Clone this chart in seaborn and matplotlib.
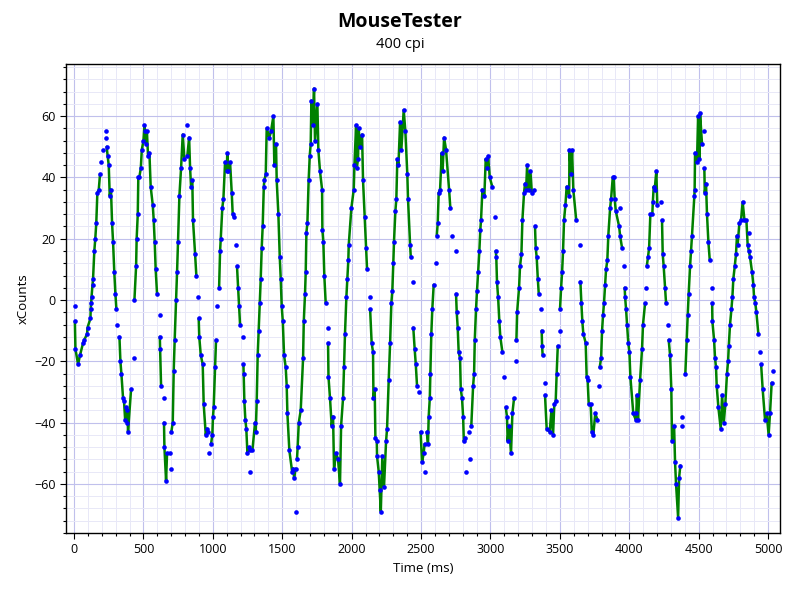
import numpy as np
import pandas as pd
import seaborn as sns
import matplotlib.pyplot as plt
from matplotlib.ticker import MultipleLocator

# time (ms), xCounts, flag: 1 = on green line, 0 = dot only (line breaks), 2 = dot only (line goes on)
time_ms = [
    4, 6, 10, 29, 43, 65, 74, 94, 97, 118, 120, 123, 126, 133, 137, 146, 153, 160, 168, 178,
    187, 197, 207, 230, 233, 235, 242, 250, 257, 266, 274, 281, 290, 298, 305, 310, 327, 334, 341, 353,
    360, 368, 375, 380, 384, 389, 411, 434, 435, 447, 451, 459, 463, 470, 481, 488, 500, 507, 512, 519,
    525, 533, 543, 552, 567, 574, 581, 588, 598, 617, 618, 620, 627, 646, 648, 651, 663, 670, 690, 697,
    701, 711, 718, 725, 735, 742, 749, 759, 771, 783, 795, 812, 816, 829, 836, 843, 852, 857, 872, 881,
    895, 898, 902, 913, 927, 934, 949, 958, 965, 975, 987, 996, 1001, 1006, 1016, 1023, 1030, 1045, 1052, 1057,
    1068, 1076, 1088, 1100, 1104, 1110, 1124, 1136, 1143, 1153, 1167, 1174, 1182, 1189, 1196, 1218, 1220, 1222, 1227, 1234,
    1241, 1249, 1262, 1268, 1270, 1285, 1304, 1309, 1316, 1323, 1330, 1338, 1345, 1352, 1359, 1367, 1371, 1381, 1388, 1407,
    1419, 1436, 1443, 1455, 1460, 1472, 1482, 1489, 1496, 1504, 1513, 1525, 1532, 1537, 1551, 1571, 1580, 1585, 1597, 1602,
    1606, 1611, 1619, 1633, 1650, 1655, 1664, 1669, 1674, 1681, 1690, 1698, 1705, 1710, 1718, 1729, 1736, 1753, 1760, 1772,
    1787, 1789, 1796, 1803, 1813, 1828, 1830, 1833, 1844, 1856, 1866, 1873, 1888, 1902, 1916, 1924, 1938, 1945, 1952, 1962,
    1969, 1976, 1979, 1998, 2015, 2020, 2032, 2037, 2046, 2050, 2062, 2075, 2082, 2094, 2104, 2111, 2130, 2133, 2144, 2154,
    2157, 2166, 2171, 2181, 2183, 2195, 2202, 2210, 2221, 2233, 2248, 2255, 2267, 2277, 2286, 2293, 2300, 2305, 2315, 2322,
    2329, 2337, 2349, 2358, 2375, 2387, 2401, 2406, 2421, 2426, 2440, 2444, 2454, 2462, 2471, 2486, 2497, 2507, 2519, 2525,
    2531, 2541, 2550, 2555, 2563, 2567, 2574, 2581, 2591, 2608, 2613, 2620, 2627, 2637, 2649, 2655, 2666, 2680, 2702, 2711,
    2725, 2750, 2752, 2757, 2764, 2771, 2781, 2786, 2795, 2803, 2808, 2817, 2824, 2844, 2853, 2862, 2875, 2882, 2887, 2896,
    2903, 2911, 2920, 2927, 2932, 2942, 2956, 2966, 2978, 2983, 2995, 3013, 3035, 3038, 3042, 3047, 3055, 3064, 3071, 3086,
    3095, 3110, 3119, 3124, 3134, 3148, 3158, 3170, 3184, 3187, 3192, 3206, 3213, 3223, 3230, 3242, 3249, 3257, 3264, 3276,
    3288, 3298, 3316, 3321, 3326, 3333, 3341, 3348, 3366, 3369, 3372, 3376, 3390, 3393, 3405, 3427, 3439, 3451, 3460, 3470,
    3477, 3485, 3499, 3501, 3509, 3516, 3523, 3530, 3540, 3549, 3567, 3569, 3581, 3588, 3597, 3618, 3646, 3648, 3655, 3662,
    3669, 3686, 3693, 3700, 3708, 3722, 3730, 3741, 3755, 3770, 3783, 3787, 3797, 3804, 3811, 3818, 3826, 3833, 3842, 3849,
    3862, 3869, 3881, 3888, 3895, 3903, 3927, 3934, 3936, 3948, 3965, 3967, 3970, 3977, 3984, 3993, 4001, 4008, 4029, 4046,
    4051, 4055, 4063, 4078, 4092, 4099, 4114, 4124, 4126, 4135, 4143, 4152, 4166, 4170, 4176, 4183, 4195, 4202, 4230, 4236,
    4241, 4248, 4258, 4265, 4280, 4284, 4294, 4303, 4308, 4323, 4330, 4337, 4352, 4359, 4368, 4378, 4380, 4404, 4414, 4421,
    4428, 4438, 4445, 4452, 4469, 4471, 4474, 4488, 4496, 4505, 4510, 4524, 4538, 4541, 4544, 4553, 4560, 4570, 4580, 4594,
    4597, 4599, 4611, 4618, 4625, 4630, 4642, 4659, 4669, 4681, 4692, 4704, 4712, 4717, 4726, 4736, 4743, 4750, 4760, 4769,
    4776, 4781, 4793, 4805, 4817, 4830, 4844, 4853, 4862, 4866, 4870, 4885, 4894, 4899, 4908, 4916, 4930, 4945, 4950, 4961,
    4978, 4990, 5004, 5014, 5026, 5036,
]
x_counts = [
    -2, -7, -16, -21, -18, -14, -13, -11, -9, -6, -3, -1, 1, 5, 7, 16, 20, 25, 35, 36,
    41, 45, 49, 55, 53, 50, 47, 44, 34, 36, 25, 19, 9, 2, -3, -8, -12, -20, -24, -32,
    -33, -39, -35, -40, -36, -43, -29, -19, 0, 11, 20, 28, 40, 40, 43, 49, 52, 57, 55, 51,
    55, 47, 48, 37, 31, 26, 19, 10, 2, -5, -12, -16, -28, -32, -40, -48, -59, -50, -50, -55,
    -43, -40, -23, -13, 0, 9, 19, 34, 43, 54, 46, 57, 47, 53, 43, 37, 39, 26, 15, 8,
    1, -6, -12, -18, -21, -34, -44, -42, -43, -50, -47, -44, -38, -35, -22, -13, -2, 4, 16, 20,
    30, 33, 45, 42, 48, 42, 45, 35, 28, 27, 18, 11, 4, -2, -8, -12, -21, -24, -33, -39,
    -42, -50, -48, -49, -56, -49, -40, -43, -33, -18, -10, -1, 7, 17, 24, 37, 39, 41, 56, 53,
    55, 60, 44, 51, 39, 28, 14, 7, -2, -7, -18, -22, -28, -37, -49, -56, -55, -58, -55, -69,
    -52, -48, -40, -36, -19, -7, 2, 9, 22, 25, 39, 47, 51, 65, 57, 69, 52, 64, 49, 42,
    36, 23, 19, 8, -1, -9, -14, -25, -32, -41, -38, -55, -50, -52, -60, -41, -32, -22, -11, 1,
    7, 13, 18, 30, 36, 44, 57, 43, 46, 56, 50, 54, 39, 27, 17, 10, 1, -3, -14, -17,
    -32, -29, -45, -46, -51, -56, -62, -69, -51, -61, -46, -42, -26, -14, -1, 3, 12, 19, 29, 33,
    46, 44, 58, 49, 62, 55, 41, 33, 18, 14, 6, -9, -16, -21, -28, -30, -43, -53, -50, -47,
    -56, -43, -47, -38, -32, -24, -11, -3, 5, 12, 21, 25, 35, 36, 48, 42, 53, 49, 36, 30,
    21, 16, 2, -4, -9, -17, -19, -29, -32, -38, -46, -45, -56, -43, -52, -41, -28, -24, -13, -3,
    3, 9, 16, 23, 26, 36, 34, 46, 43, 47, 40, 37, 27, 16, 14, 6, 1, -7, -12, -17,
    -25, -35, -38, -46, -41, -50, -37, -32, -20, -13, -4, 4, 11, 15, 26, 35, 38, 36, 44, 36,
    42, 35, 36, 24, 17, 14, 7, 2, -3, -10, -15, -18, -27, -31, -42, -43, -36, -44, -34, -33,
    -24, -15, -10, -3, 4, 9, 16, 26, 31, 37, 34, 49, 41, 49, 36, 26, 18, 6, -1, -7,
    -11, -14, -25, -26, -34, -34, -43, -44, -37, -39, -28, -22, -19, -10, -5, -1, 5, 10, 13, 21,
    30, 33, 40, 40, 33, 29, 24, 21, 30, 17, 11, 4, 1, -3, -8, -14, -17, -25, -37, -39,
    -37, -31, -39, -26, -16, -8, -1, 4, 11, 14, 17, 28, 28, 32, 37, 36, 42, 31, 32, 26,
    15, 11, 4, -1, -8, -13, -18, -29, -46, -41, -53, -60, -71, -58, -54, -41, -38, -24, -13, -5,
    2, 11, 16, 21, 34, 36, 48, 45, 60, 46, 61, 51, 55, 43, 35, 38, 28, 19, 13, 4,
    -1, -7, -13, -19, -22, -28, -35, -42, -31, -40, -34, -24, -20, -15, -8, -3, 1, 7, 11, 15,
    21, 18, 25, 26, 32, 26, 26, 18, 16, 22, 14, 9, 5, 1, -1, -4, -11, -17, -21, -29,
    -39, -37, -44, -37, -27, -23,
]
on_line = [
    0, 1, 1, 1, 1, 1, 1, 1, 1, 1, 1, 1, 1, 1, 1, 1, 1, 1, 1, 1,
    1, 0, 0, 0, 0, 1, 1, 1, 1, 1, 1, 1, 1, 1, 1, 0, 1, 1, 1, 1,
    1, 1, 1, 1, 1, 1, 1, 0, 1, 1, 1, 1, 1, 1, 1, 1, 1, 1, 1, 1,
    1, 1, 1, 1, 1, 1, 1, 1, 1, 0, 1, 1, 1, 0, 1, 1, 1, 1, 1, 0,
    1, 1, 1, 1, 1, 1, 1, 1, 1, 1, 1, 0, 1, 1, 1, 1, 1, 1, 1, 1,
    0, 1, 1, 1, 1, 1, 1, 1, 1, 0, 1, 1, 1, 1, 1, 1, 0, 1, 1, 1,
    1, 1, 1, 1, 1, 1, 1, 1, 1, 1, 0, 1, 1, 1, 1, 0, 1, 1, 1, 1,
    1, 1, 1, 1, 0, 1, 1, 1, 1, 1, 1, 1, 1, 1, 1, 1, 1, 1, 1, 1,
    1, 1, 1, 1, 1, 1, 1, 1, 1, 1, 1, 1, 1, 1, 1, 1, 1, 1, 1, 0,
    1, 1, 1, 1, 1, 1, 1, 1, 1, 1, 1, 1, 1, 1, 1, 1, 1, 1, 1, 1,
    1, 1, 1, 1, 1, 0, 1, 1, 1, 1, 1, 1, 1, 1, 1, 1, 1, 1, 1, 1,
    1, 1, 1, 1, 1, 1, 1, 1, 1, 1, 1, 1, 1, 1, 1, 1, 0, 1, 1, 1,
    1, 1, 1, 1, 1, 1, 1, 1, 1, 1, 1, 1, 1, 1, 1, 1, 1, 1, 1, 1,
    1, 1, 1, 1, 1, 1, 1, 1, 1, 1, 0, 1, 1, 1, 1, 0, 1, 1, 1, 1,
    0, 1, 1, 1, 1, 1, 1, 1, 1, 0, 1, 1, 1, 1, 1, 1, 1, 1, 1, 1,
    0, 0, 1, 1, 1, 1, 1, 1, 1, 1, 1, 1, 0, 1, 0, 1, 1, 1, 1, 1,
    1, 1, 1, 1, 1, 1, 1, 1, 1, 1, 1, 1, 0, 1, 1, 1, 1, 1, 1, 1,
    0, 1, 1, 1, 1, 1, 1, 1, 0, 1, 1, 1, 1, 1, 1, 1, 1, 1, 1, 1,
    1, 1, 0, 1, 1, 1, 1, 1, 0, 1, 1, 1, 0, 1, 1, 1, 1, 1, 1, 1,
    1, 1, 0, 1, 1, 1, 1, 1, 1, 1, 1, 1, 1, 1, 1, 1, 0, 1, 1, 1,
    1, 1, 1, 1, 1, 1, 1, 1, 1, 1, 0, 1, 1, 1, 1, 1, 1, 1, 1, 1,
    1, 1, 1, 1, 1, 1, 1, 1, 2, 1, 0, 1, 1, 1, 1, 1, 1, 1, 1, 1,
    1, 1, 1, 1, 1, 1, 1, 0, 1, 1, 1, 1, 1, 1, 1, 1, 1, 1, 0, 1,
    1, 1, 1, 1, 0, 1, 1, 1, 1, 1, 1, 1, 1, 1, 1, 0, 0, 1, 1, 1,
    1, 1, 1, 1, 1, 1, 1, 1, 1, 1, 1, 1, 0, 1, 1, 1, 1, 1, 1, 0,
    1, 1, 1, 1, 1, 1, 1, 1, 1, 1, 1, 1, 1, 1, 1, 1, 1, 1, 1, 1,
    1, 1, 1, 1, 1, 1, 1, 1, 1, 2, 1, 1, 1, 1, 1, 1, 1, 0, 1, 1,
    1, 1, 1, 1, 1, 0,
]

df = pd.DataFrame({"t": time_ms, "y": x_counts, "flag": on_line})
# a new line segment starts after every dot that breaks the line
df["seg"] = (df["flag"] == 0).cumsum()
line_df = df[df["flag"] == 1]

sns.set_style("white")
plt.rcParams["font.family"] = ["Open Sans", "DejaVu Sans"]
plt.rcParams["text.color"] = "black"
plt.rcParams["axes.labelcolor"] = "black"
plt.rcParams["xtick.color"] = "black"
plt.rcParams["ytick.color"] = "black"

fig = plt.figure(figsize=(8, 6), dpi=100)
ax = fig.add_axes([0.0825, 0.1117, 0.8925, 0.7816])

sns.lineplot(data=line_df, x="t", y="y", units="seg", estimator=None, sort=False,
             color="#008000", linewidth=1.8, ax=ax, zorder=3)
sns.scatterplot(data=df, x="t", y="y", color="#0000ff", s=11, linewidth=0, ax=ax, zorder=4)

ax.set_xlim(-58, 5086)
ax.set_ylim(-76, 77)
ax.xaxis.set_major_locator(MultipleLocator(500))
ax.xaxis.set_minor_locator(MultipleLocator(100))
ax.yaxis.set_major_locator(MultipleLocator(20))
ax.yaxis.set_minor_locator(MultipleLocator(4))
ax.grid(which="major", color="#c0c0ec", linewidth=0.8)
ax.grid(which="minor", color="#e8e8f7", linewidth=0.7)
ax.set_axisbelow(True)
ax.tick_params(which="major", direction="out", length=4, width=0.8, labelsize=9,
               bottom=True, left=True, colors="black")
ax.tick_params(which="minor", direction="out", length=2.5, width=0.8,
               bottom=True, left=True, colors="black")
for s in ax.spines.values():
    s.set_color("black")
    s.set_linewidth(1)

ax.set_xlabel("Time (ms)", fontsize=9.5, labelpad=4)
ax.set_ylabel("xCounts", fontsize=9.5, labelpad=3)

fig.text(0.5, 0.963, "MouseTester", ha="center", va="center", fontsize=14, fontweight="bold")
fig.text(0.5, 0.925, "400 cpi", ha="center", va="center", fontsize=10.5)

fig.savefig("out.png", dpi=100)
